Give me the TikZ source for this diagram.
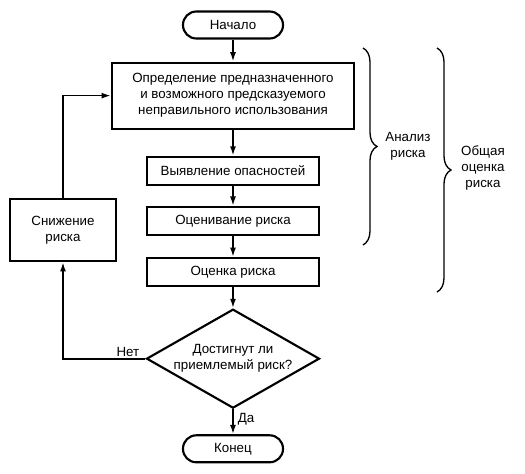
\documentclass[tikz,border=0pt]{standalone}
\usepackage{fontspec}
\setmainfont{Liberation Sans}
\usepackage{tikz}
\usetikzlibrary{arrows.meta,positioning,shapes.geometric,decorations.pathreplacing}

\begin{document}
\begin{tikzpicture}[
        font=\fontsize{10pt}{12pt}\selectfont,
        box/.style={draw, line width=1.6pt, align=center, inner sep=2pt},
        term/.style={box, rounded corners=10pt, minimum width=75pt, minimum height=20.25pt},
        check/.style={draw, line width=1.6pt, diamond, aspect=1.75, inner sep=0pt,
                      align=center, minimum width=129.75pt, minimum height=74.25pt},
        arr/.style={-{Latex[length=7pt,width=4.5pt]}, line width=1.3pt},
        brc/.style={decorate, decoration={brace, amplitude=10.5pt}, line width=1pt},
    ]
        \useasboundingbox (-174.75pt,-336.75pt) rectangle (219pt,18.75pt);

        \node[term] (start) {Начало};
        \node[box, minimum width=181.5pt, minimum height=49.5pt, below=16.5pt of start] (def)
            {Определение предназначенного\\и возможного предсказуемого\\неправильного использования};
        \node[box, minimum width=129pt, minimum height=21pt, below=19.5pt of def] (haz) {Выявление опасностей};
        \node[box, minimum width=129pt, minimum height=21pt, below=15pt of haz] (est) {Оценивание риска};
        \node[box, minimum width=129pt, minimum height=21pt, below=15.75pt of est] (eval) {Оценка риска};
        \node[check, below=15.75pt of eval] (ok) {Достигнут ли\\приемлемый риск?};
        \node[term, below=18.75pt of ok] (stop) {Конец};
        \node[box, minimum width=79.5pt, minimum height=46.5pt] (red) at (-127.5pt,-153.75pt) {Снижение\\риска};

        \draw[arr] (start) -- (def);
        \draw[arr] (def) -- (haz);
        \draw[arr] (haz) -- (est);
        \draw[arr] (est) -- (eval);
        \draw[arr] (eval) -- (ok);
        \draw[arr] (ok) -- node[right, inner sep=3pt, pos=0.4] {Да} (stop);
        \draw[arr] (ok.west) -| node[pos=0, above left, inner sep=1pt, xshift=-3pt] {Нет} (red.south);
        \draw[arr] (red.north) |- (def.west);

        % braces on the right
        \coordinate (a1) at (97.5pt,-17.25pt);
        \coordinate (a2) at (97.5pt,-165pt);
        \coordinate (b1) at (153pt,-17.25pt);
        \coordinate (b2) at (153pt,-200.25pt);
        \draw[brc] (a1) -- (a2);
        \draw[brc] (b1) -- (b2);
        \node[align=center] (ana) at (131.25pt,-90.75pt) {Анализ\\риска};
        \node[align=center] (tot) at (187.5pt,-107.25pt) {Общая\\оценка\\риска};
    \end{tikzpicture}
\end{document}
